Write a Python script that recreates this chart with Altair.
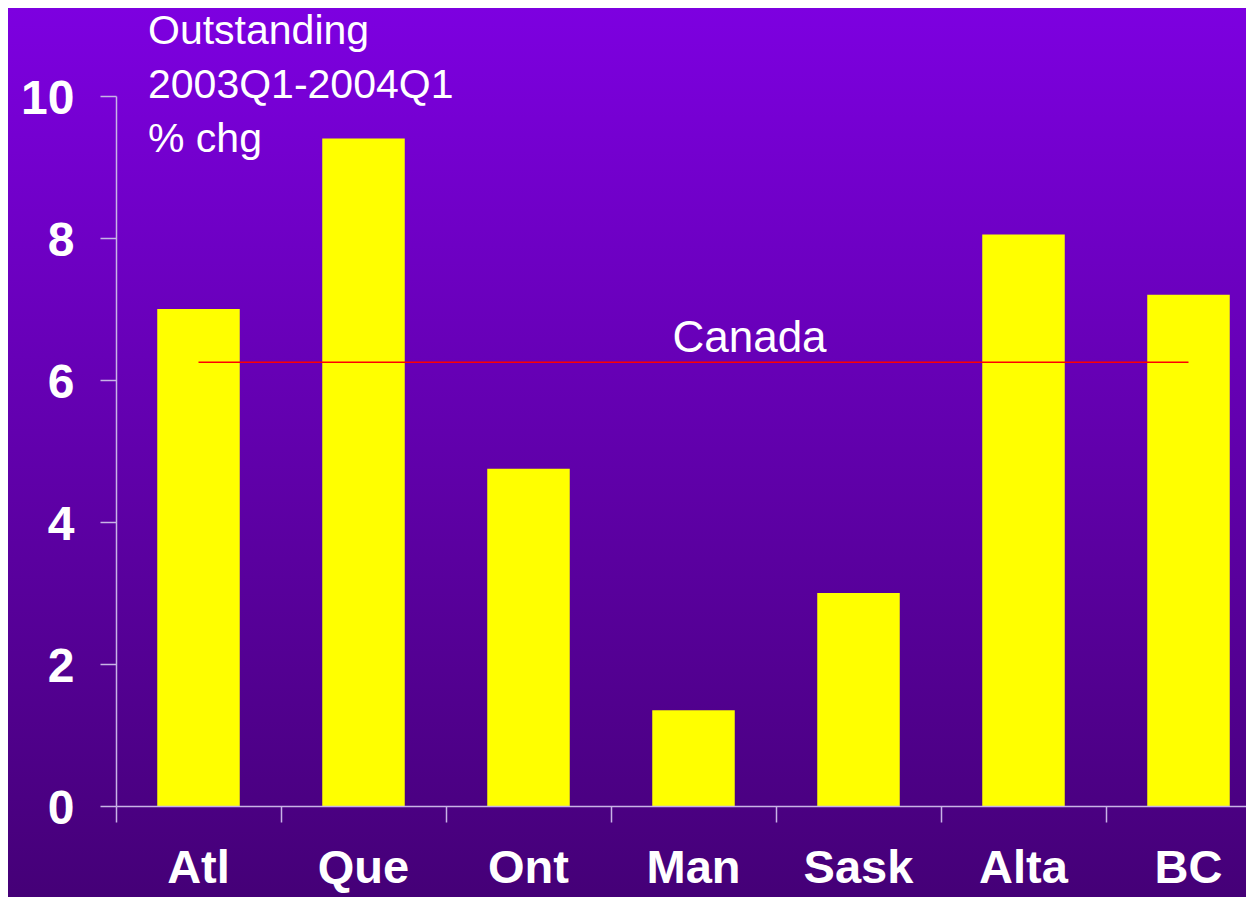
import altair as alt
import pandas as pd

categories = ["Atl", "Que", "Ont", "Man", "Sask", "Alta", "BC"]
values = [7.0, 9.4, 4.75, 1.35, 3.0, 8.05, 7.2]
canada_value = 6.25
y_ticks = [0, 2, 4, 6, 8, 10]
title_lines = ["Outstanding", "2003Q1-2004Q1", "% chg"]

FONT = "Liberation Sans"
W, H = 1130, 710
PAD = {"left": 108, "top": 88, "right": 0, "bottom": 91}
AXIS_COLOR = "#c8b4e6"

bars_df = pd.DataFrame({"cat": categories, "value": values})
rule_df = pd.DataFrame({"cat": [categories[0]], "cat2": [categories[-1]], "value": [canada_value]})
label_df = pd.DataFrame({"cat": ["Man"], "value": [canada_value], "label": ["Canada"]})

xscale = alt.Scale(domain=categories, range=[0, 1155], paddingInner=0, paddingOuter=0)
yscale = alt.Scale(domain=[0, 10])

bg = alt.Chart(pd.DataFrame({"k": [0]})).mark_rect(
    color=alt.LinearGradient(
        gradient="linear",
        stops=[alt.GradientStop(color="#7d00e0", offset=0),
               alt.GradientStop(color="#440076", offset=1)],
        x1=0, x2=0, y1=0, y2=1,
    )
).encode(
    x=alt.value(-PAD["left"]), x2=alt.value(W + 20),
    y=alt.value(-PAD["top"]), y2=alt.value(H + PAD["bottom"] + 10),
)

bars = alt.Chart(bars_df).mark_bar(color="#ffff00", width=alt.RelativeBandSize(0.5)).encode(
    x=alt.X("cat:N", scale=xscale, sort=categories,
            axis=alt.Axis(title=None, labels=False, bandPosition=0, tickSize=16,
                          domainColor=AXIS_COLOR, tickColor=AXIS_COLOR,
                          domainWidth=1.5, tickWidth=1.5, grid=False, zindex=1)),
    y=alt.Y("value:Q", scale=yscale,
            axis=alt.Axis(title=None, values=y_ticks, format="d", tickSize=16, labelPadding=26,
                          labelFont=FONT, labelFontWeight="bold", labelFontSize=48,
                          labelColor="white", labelOffset=3,
                          domainColor=AXIS_COLOR, tickColor=AXIS_COLOR,
                          domainWidth=1.5, tickWidth=1.5, grid=False, zindex=1)),
)

xlabels = alt.Chart(bars_df).mark_text(
    font=FONT, fontWeight="bold", fontSize=47, color="white",
    baseline="alphabetic", align="center", dy=77,
).encode(
    x=alt.X("cat:N", scale=xscale, sort=categories),
    y=alt.datum(0),
    text="cat:N",
)

rule = alt.Chart(rule_df).mark_rule(color="#ff0000", strokeWidth=1.5).encode(
    x=alt.X("cat:N", scale=xscale),
    x2="cat2:N",
    y=alt.Y("value:Q", scale=yscale),
)

canada = alt.Chart(label_df).mark_text(
    font=FONT, fontSize=44, color="white", baseline="alphabetic",
    align="center", dx=56, dy=-10,
).encode(
    x=alt.X("cat:N", scale=xscale),
    y=alt.Y("value:Q", scale=yscale),
    text="label:N",
)

chart = alt.layer(bg, bars, rule, canada, xlabels).properties(
    width=W, height=H,
    autosize=alt.AutoSizeParams(type="none"),
    padding=PAD,
    background="#7d00e0",
    title=alt.Title(title_lines, anchor="start", frame="group", dx=32, dy=185,
                    font=FONT, fontSize=41, fontWeight="normal", color="white",
                    lineHeight=54, offset=0, baseline="alphabetic", zindex=2),
).configure_view(stroke=None)

chart.save("out.html", embed_options={"renderer": "svg", "actions": False})
